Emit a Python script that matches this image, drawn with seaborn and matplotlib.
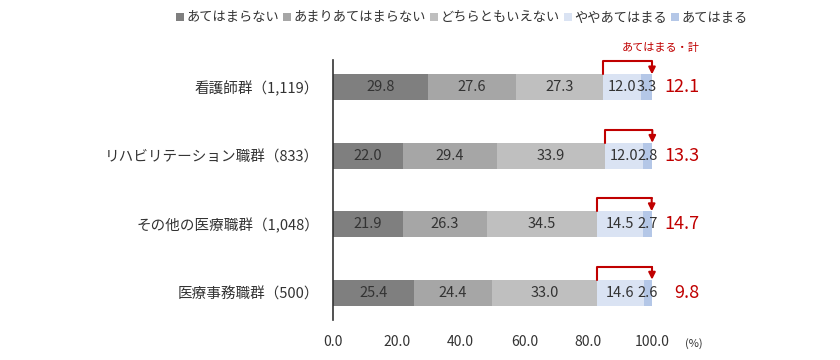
import numpy as np
import pandas as pd
import matplotlib
matplotlib.use("Agg")
import matplotlib.pyplot as plt
import seaborn as sns

# データ
groups = ["看護師群（1,119）", "リハビリテーション職群（833）", "その他の医療職群（1,048）", "医療事務職群（500）"]
answers = ["あてはまらない", "あまりあてはまらない", "どちらともいえない", "ややあてはまる", "あてはまる"]
v_no = [29.8, 22.0, 21.9, 25.4]
v_rather_no = [27.6, 29.4, 26.3, 24.4]
v_neutral = [27.3, 33.9, 34.5, 33.0]
v_rather_yes = [12.0, 12.0, 14.5, 14.6]
v_yes = [3.3, 2.8, 2.7, 2.6]
totals = ["12.1", "13.3", "14.7", "9.8"]

colors = ["#7f7f7f", "#a6a6a6", "#bfbfbf", "#dae3f3", "#b4c7e7"]

sns.set_style("white")
plt.rcParams["font.family"] = ["Noto Sans CJK JP", "DejaVu Sans"]

df = pd.DataFrame({"group": groups})
vals = [v_no, v_rather_no, v_neutral, v_rather_yes, v_yes]
for name, v in zip(answers, vals):
    df[name] = v
cum = df[answers].cumsum(axis=1)

fig = plt.figure(figsize=(8.4, 3.6), dpi=100)
ax = fig.add_axes([333 / 840, 1 - 320 / 360, (652 - 333) / 840, 260 / 360])

# 積み上げ（累積値を大きい方から重ねる）
for name, c in reversed(list(zip(answers, colors))):
    sns.barplot(data=cum, x=name, y=df["group"], color=c, orient="h",
                width=0.38, ax=ax, label=name, linewidth=0, saturation=1)
handles, labels = ax.get_legend_handles_labels()
if ax.get_legend() is not None:
    ax.get_legend().remove()

# 数値ラベル
for i in range(len(groups)):
    left = 0
    for name in answers:
        w = df.loc[i, name]
        ax.text(left + w / 2, i, f"{w:.1f}", ha="center", va="center",
                fontsize=10.5, color="#333333")
        left += w
    # 赤い矢印
    x0 = cum.loc[i, answers[2]]
    x1 = cum.loc[i, answers[4]]
    ytop = i - 0.38
    ybar = i - 0.19
    ax.plot([x0, x0, x1], [ybar, ytop, ytop], color="#c00000", lw=1.5, clip_on=False)
    ax.annotate("", xy=(x1, ybar), xytext=(x1, ytop + 0.005),
                arrowprops=dict(arrowstyle="-|>", color="#c00000", lw=1.5,
                                mutation_scale=10, shrinkA=0, shrinkB=0),
                annotation_clip=False)
    ax.text(115, i, totals[i], ha="right", va="center", fontsize=13,
            color="#c00000", clip_on=False)

ax.text(115, -0.58, "あてはまる・計", ha="right", va="center", fontsize=8,
        color="#c00000", clip_on=False)

ax.set_xlim(0, 100)
ax.set_ylim(3.4, -0.4)
ax.set_xticks([0, 20, 40, 60, 80, 100])
ax.set_xticklabels([f"{t:.1f}" for t in [0, 20, 40, 60, 80, 100]], fontsize=10, color="#333333")
ax.tick_params(axis="x", length=0, pad=11)
ax.tick_params(axis="y", length=0, pad=10, labelsize=10.5, labelcolor="#333333")
ax.set_xlabel("")
ax.set_ylabel("")
ax.annotate("(%)", xy=(113, 0), xycoords=("data", "axes fraction"),
            xytext=(0, -13), textcoords="offset points", ha="center", va="top",
            fontsize=8, color="#333333", annotation_clip=False)
for s in ["top", "right", "bottom"]:
    ax.spines[s].set_visible(False)
ax.spines["left"].set_color("#333333")
ax.spines["left"].set_linewidth(1.2)

# 凡例
order = [labels.index(a) for a in answers]
leg = fig.legend([handles[k] for k in order], [labels[k] for k in order],
                 loc="center", bbox_to_anchor=(462 / 840, 1 - 18 / 360), ncol=5,
                 frameon=False, fontsize=9.5, handlelength=0.6, handleheight=0.6,
                 handletextpad=0.2, columnspacing=0.3)
for t in leg.get_texts():
    t.set_color("#333333")

fig.savefig("out.png", dpi=100)
